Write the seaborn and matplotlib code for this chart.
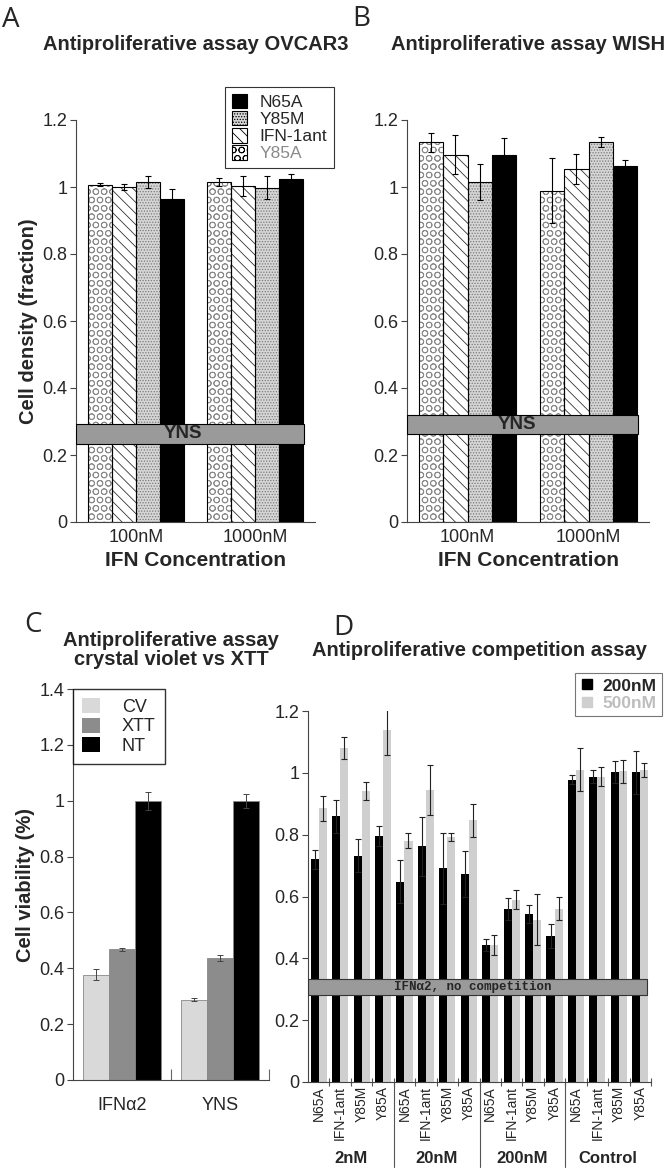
import matplotlib
matplotlib.use('Agg')
import matplotlib.pyplot as plt
import matplotlib.patches as mpatches
import matplotlib.transforms as mtransforms
from matplotlib.lines import Line2D
import pandas as pd
import seaborn as sns

# ---- data ----
conc = ['100nM', '1000nM']
mutants = ['Y85A', 'IFN-1ant', 'Y85M', 'N65A']

# panel A, OVCAR3 (bars in mutant order above)
ovcar3_100 = [1.007, 1.000, 1.015, 0.965]
ovcar3_100_err = [0.005, 0.008, 0.018, 0.030]
ovcar3_1000 = [1.015, 1.004, 0.998, 1.025]
ovcar3_1000_err = [0.012, 0.030, 0.035, 0.015]

# panel B, WISH
wish_100 = [1.133, 1.096, 1.015, 1.096]
wish_100_err = [0.028, 0.058, 0.053, 0.050]
wish_1000 = [0.989, 1.054, 1.135, 1.064]
wish_1000_err = [0.097, 0.045, 0.015, 0.016]

# YNS reference level (band low, band high)
yns_band_a = [0.233, 0.293]
yns_band_b = [0.263, 0.319]

# panel C
treatments = ['IFNα2', 'YNS']
assays = ['CV', 'XTT', 'NT']
cv_vals = [0.377, 0.288]
cv_err = [0.020, 0.004]
xtt_vals = [0.468, 0.437]
xtt_err = [0.006, 0.012]
nt_vals = [1.0, 1.0]
nt_err = [0.032, 0.025]

# panel D
groups_d = ['2nM', '20nM', '200nM', 'Control']
mutants_d = ['N65A', 'IFN-1ant', 'Y85M', 'Y85A']
doses_d = ['200nM', '500nM']
d_200 = [0.720, 0.859, 0.732, 0.796, 0.648, 0.762, 0.691, 0.672,
         0.443, 0.559, 0.542, 0.473, 0.978, 0.988, 1.002, 1.002]
d_200_err = [0.032, 0.052, 0.053, 0.033, 0.070, 0.095, 0.115, 0.075,
             0.020, 0.036, 0.029, 0.038, 0.015, 0.020, 0.036, 0.070]
d_500 = [0.885, 1.081, 0.941, 1.139, 0.780, 0.944, 0.792, 0.846,
         0.444, 0.589, 0.525, 0.561, 1.010, 0.988, 1.005, 1.010]
d_500_err = [0.040, 0.035, 0.028, 0.080, 0.024, 0.080, 0.013, 0.053,
             0.032, 0.031, 0.083, 0.037, 0.069, 0.030, 0.038, 0.022]
ifn_band_d = [0.281, 0.332]

# ---- style ----
sns.set_theme(style='white')
plt.rcParams['font.family'] = ['Liberation Sans', 'DejaVu Sans']
plt.rcParams['hatch.linewidth'] = 0.6

styles = {
    'Y85A': dict(face='white', hatch='OO', hc='#8a8a8a'),
    'IFN-1ant': dict(face='white', hatch='\\\\\\', hc='#333333'),
    'Y85M': dict(face='#d6d6d6', hatch='......', hc='#7a7a7a'),
    'N65A': dict(face='black', hatch='', hc='black'),
}
yticks12 = [0, 0.2, 0.4, 0.6, 0.8, 1.0, 1.2]
ylabels12 = ['0', '0.2', '0.4', '0.6', '0.8', '1', '1.2']
TITLE_SIZE = 14.5


def bar_lookup(bars, cats, hues):
    # sort seaborn's bars into (category, hue) by their place on the axis
    out = []
    for i, c in enumerate(cats):
        row = sorted([b for b in bars if round(b.get_x() + b.get_width() / 2) == i],
                     key=lambda b: b.get_x())
        for h, b in zip(hues, row):
            out.append((c, h, b))
    return out


def style_axes(ax):
    sns.despine(ax=ax)
    for s in ['left', 'bottom']:
        ax.spines[s].set_color('#444444')
        ax.spines[s].set_linewidth(0.8)
    ax.tick_params(axis='y', left=True, direction='out', length=4, width=0.8,
                   color='#444444', labelsize=13, pad=2)


def mutant_panel(ax, vals100, err100, vals1000, err1000, band, title, band_x):
    df = pd.DataFrame({
        'conc': [conc[0]] * 4 + [conc[1]] * 4,
        'mutant': mutants * 2,
        'value': vals100 + vals1000,
        'err': err100 + err1000,
    })
    n0 = len(ax.patches)
    sns.barplot(data=df, x='conc', y='value', hue='mutant', order=conc, hue_order=mutants,
                palette=[styles[m]['face'] for m in mutants], saturation=1, width=0.8,
                errorbar=None, legend=False, linewidth=0, ax=ax)
    bars = bar_lookup(ax.patches[n0:], conc, mutants)
    xs, ys, es = [], [], []
    for c, m, b in bars:
        st = styles[m]
        b.set_hatch(st['hatch'])
        b.set_edgecolor(st['hc'])
        b.set_linewidth(0)
        ax.add_patch(mpatches.Rectangle((b.get_x(), 0), b.get_width(), b.get_height(),
                                        fill=False, ec='black', lw=0.8, zorder=2.5))
        row = df[(df.conc == c) & (df.mutant == m)].iloc[0]
        xs.append(b.get_x() + b.get_width() / 2)
        ys.append(row.value)
        es.append(row.err)
    ax.errorbar(xs, ys, yerr=es, fmt='none', ecolor='black', elinewidth=0.8,
                capsize=2.5, capthick=0.8, zorder=3)
    ax.axhspan(band[0], band[1], xmin=0, xmax=0.955, facecolor='#9a9a9a',
               edgecolor='black', lw=0.8, zorder=4)
    ax.text(band_x, (band[0] + band[1]) / 2, 'YNS', transform=ax.get_yaxis_transform(),
            ha='center', va='center', fontsize=13.5, fontweight='bold', zorder=5)
    ax.set_xlim(-0.5, 1.5)
    ax.set_ylim(0, 1.2)
    ax.set_yticks(yticks12, ylabels12)
    style_axes(ax)
    ax.tick_params(axis='x', length=0, labelsize=13, pad=5)
    ax.set_xlabel('IFN Concentration', fontsize=15, fontweight='bold', labelpad=4)
    ax.set_ylabel('')
    ax.text(0.5, 1.187, title, transform=ax.transAxes, ha='center', va='center',
            fontsize=TITLE_SIZE, fontweight='bold')


fig = plt.figure(figsize=(6.7, 11.71), dpi=100)
W, H = 670.0, 1171.0


def axes_px(left, top, right, bottom):
    return fig.add_axes([left / W, 1 - bottom / H, (right - left) / W, (bottom - top) / H])


# ---- A ----
axA = axes_px(76, 120, 315, 522)
mutant_panel(axA, ovcar3_100, ovcar3_100_err, ovcar3_1000, ovcar3_1000_err,
             yns_band_a, 'Antiproliferative assay OVCAR3', 0.448)
axA.set_ylabel('Cell density (fraction)', fontsize=14.5, fontweight='bold', labelpad=3)
handles = []
for m in mutants[::-1]:
    st = styles[m]
    handles.append(mpatches.Patch(facecolor=st['face'], edgecolor='black', hatch=st['hatch'], lw=0.8))
leg = axA.legend(handles, mutants[::-1], loc='upper left', bbox_to_anchor=(0.623, 1.082),
                 fontsize=12.5, frameon=True, fancybox=False, edgecolor='black',
                 handlelength=0.9, handleheight=0.9, handletextpad=0.7, labelspacing=0.05,
                 borderpad=0.4, borderaxespad=0)
leg.get_frame().set_linewidth(0.8)
for t in leg.get_texts():
    if t.get_text() == 'Y85A':
        t.set_color('#8a8a8a')

# ---- B ----
axB = axes_px(407, 120, 649, 522)
mutant_panel(axB, wish_100, wish_100_err, wish_1000, wish_1000_err,
             yns_band_b, 'Antiproliferative assay WISH', 0.455)

# ---- C ----
axC = axes_px(73, 689, 269, 1080)
dfc = pd.DataFrame({
    'treat': treatments * 3,
    'assay': [a for a in assays for _ in treatments],
    'value': cv_vals + xtt_vals + nt_vals,
    'err': cv_err + xtt_err + nt_err,
})
n0 = len(axC.patches)
c_colors = ['#d9d9d9', '#8c8c8c', 'black']
sns.barplot(data=dfc, x='treat', y='value', hue='assay', order=treatments, hue_order=assays,
            palette=c_colors, saturation=1, width=0.8, errorbar=None, legend=False,
            edgecolor='#888888', linewidth=0.6, ax=axC)
xs, ys, es = [], [], []
for t, a, b in bar_lookup(axC.patches[n0:], treatments, assays):
    row = dfc[(dfc.treat == t) & (dfc.assay == a)].iloc[0]
    xs.append(b.get_x() + b.get_width() / 2)
    ys.append(row.value)
    es.append(row.err)
axC.errorbar(xs, ys, yerr=es, fmt='none', ecolor='#444444', elinewidth=0.7,
             capsize=2.5, capthick=0.7, zorder=3)
axC.set_xlim(-0.5, 1.5)
axC.set_ylim(0, 1.4)
axC.set_yticks(yticks12 + [1.4], ylabels12 + ['1.4'])
style_axes(axC)
axC.set_xticks([0.5, 1.5], minor=True)
axC.tick_params(axis='x', which='major', length=0, labelsize=13, pad=12)
axC.tick_params(axis='x', which='minor', bottom=True, direction='in', length=8,
                width=0.8, color='#666666')
axC.set_xlabel('')
axC.set_ylabel('Cell viability (%)', fontsize=14.5, fontweight='bold', labelpad=3)
axC.text(0.5, 1.10, 'Antiproliferative assay\ncrystal violet vs XTT', transform=axC.transAxes,
         ha='center', va='center', fontsize=TITLE_SIZE, fontweight='bold', linespacing=1.0)
hc = [mpatches.Patch(facecolor=c, edgecolor='none') for c in c_colors]
legC = axC.legend(hc, assays, loc='upper left', bbox_to_anchor=(0, 1), fontsize=13,
                  frameon=True, fancybox=False, edgecolor='black', handlelength=1.0,
                  handleheight=0.9, handletextpad=1.2, labelspacing=0.1, borderpad=0.5,
                  borderaxespad=0)
legC.get_frame().set_linewidth(1.0)
legC._legend_box.align = 'left'

# ---- D ----
axD = axes_px(308, 711, 651, 1082)
cats_d = [g + '|' + m for g in groups_d for m in mutants_d]
dfd = pd.DataFrame({
    'cat': cats_d * 2,
    'dose': [doses_d[0]] * 16 + [doses_d[1]] * 16,
    'value': d_200 + d_500,
    'err': d_200_err + d_500_err,
})
n0 = len(axD.patches)
d_colors = ['black', '#cfcfcf']
sns.barplot(data=dfd, x='cat', y='value', hue='dose', order=cats_d, hue_order=doses_d,
            palette=d_colors, saturation=1, width=0.75, errorbar=None, legend=False,
            linewidth=0, ax=axD)
xs, ys, es = [], [], []
for c, d, b in bar_lookup(axD.patches[n0:], cats_d, doses_d):
    row = dfd[(dfd.cat == c) & (dfd.dose == d)].iloc[0]
    xs.append(b.get_x() + b.get_width() / 2)
    ys.append(row.value)
    es.append(row.err)
axD.errorbar(xs, ys, yerr=es, fmt='none', ecolor='#222222', elinewidth=0.8,
             capsize=2.0, capthick=0.8, zorder=3)
axD.axhspan(ifn_band_d[0], ifn_band_d[1], xmin=0, xmax=0.988, facecolor='#9a9a9a',
            edgecolor='#333333', lw=0.8, zorder=4)
axD.text(0.481, (ifn_band_d[0] + ifn_band_d[1]) / 2, 'IFNα2, no competition',
         transform=axD.get_yaxis_transform(), ha='center', va='center', fontsize=9,
         fontweight='bold', family=['Liberation Mono', 'DejaVu Sans Mono'], zorder=5)
axD.set_xlim(-0.5, len(cats_d) - 0.5)
axD.set_ylim(0, 1.2)
axD.set_yticks(yticks12, ylabels12)
style_axes(axD)
axD.set_xticks(range(len(cats_d)), mutants_d * len(groups_d))
axD.set_xticks([i + 0.5 for i in range(len(cats_d))], minor=True)
axD.tick_params(axis='x', which='major', length=0, labelsize=10, pad=3, labelrotation=90)
axD.tick_params(axis='x', which='minor', bottom=True, direction='inout', length=6,
                width=0.8, color='#555555')
axD.set_xlabel('')
axD.set_ylabel('')
trans = mtransforms.blended_transform_factory(axD.transData, axD.transAxes)
for gi, g in enumerate(groups_d):
    axD.text(gi * 4 + 1.5, -0.207, g, transform=trans, ha='center', va='center',
             fontsize=12, fontweight='bold')
    if gi > 0:
        axD.plot([gi * 4 - 0.5] * 2, [0, -0.23], transform=trans, clip_on=False,
                 color='#555555', lw=0.8)
axD.text(0.5, 1.164, 'Antiproliferative competition assay', transform=axD.transAxes,
         ha='center', va='center', fontsize=TITLE_SIZE, fontweight='bold')
hd = [Line2D([], [], ls='none', marker='s', markersize=7, color=c) for c in d_colors]
legD = axD.legend(hd, doses_d, loc='upper right', bbox_to_anchor=(1.032, 1.102),
                  prop={'size': 12.5, 'weight': 'bold'}, frameon=True, fancybox=False,
                  edgecolor='#555555', handlelength=0.8, handletextpad=0.5,
                  labelspacing=0.15, borderpad=0.3, borderaxespad=0)
legD.get_frame().set_linewidth(0.8)
legD.get_texts()[1].set_color('#bdbdbd')

# ---- panel letters ----
for letter, x, y in [('A', 2, 20), ('B', 352, 19), ('C', 24, 625), ('D', 333, 628)]:
    fig.text(x / W, 1 - y / H, letter, fontsize=20, va='center', ha='left',
             family=['Open Sans', 'DejaVu Sans'])

fig.savefig('out.png', dpi=100)
